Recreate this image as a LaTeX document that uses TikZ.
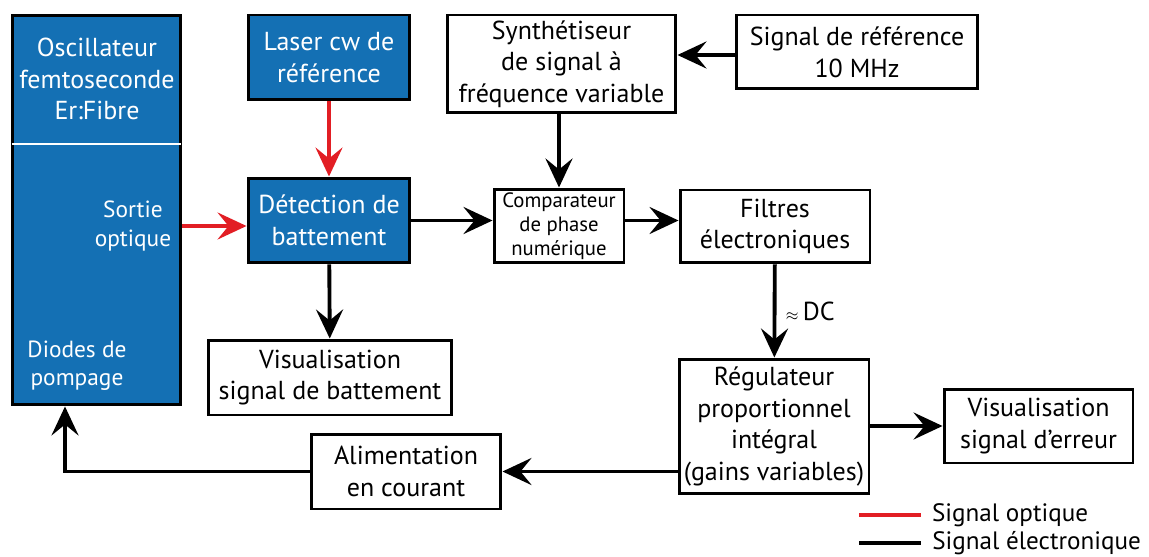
\documentclass[tikz,border=0pt]{standalone}
\usepackage{fontspec}
\setmainfont{PT Sans}
\usetikzlibrary{arrows.meta}
\definecolor{bleu}{RGB}{20,112,180}
\definecolor{rouge}{RGB}{226,30,36}
\begin{document}
\begin{tikzpicture}[x=0.02cm,y=-0.02cm,>={Stealth[length=5.8mm,width=5.4mm,inset=2.2mm]},
  boite/.style={draw,line width=1.7pt,align=center,inner sep=1pt,font=\fontsize{14.8pt}{18pt}\selectfont},
  bleue/.style={boite,fill=bleu,text=white},
  fleche/.style={line width=2.2pt,->},
  optique/.style={fleche,rouge,line width=2pt}]
 \useasboundingbox (0,0) rectangle (1149,557);
 % boites
 \node[bleue,minimum width=3.38cm,minimum height=7.8cm] (osc) at (96.5,210) {};
 \draw[white,line width=1.6pt] (12,144) -- (181,144);
 \node[align=center,text=white,font=\fontsize{14.8pt}{18pt}\selectfont] (titre) at (97,79) {Oscillateur\\femtoseconde\\Er:Fibre};
 \node[align=center,text=white,font=\fontsize{13.3pt}{16pt}\selectfont] (sortie) at (133,226) {Sortie\\optique};
 \node[align=center,text=white,font=\fontsize{13.3pt}{16pt}\selectfont] (diodes) at (77,366) {Diodes de\\pompage};
 \node[bleue,minimum width=3.24cm,minimum height=1.7cm] (laser) at (329,57.5) {Laser cw de\\référence};
 \node[bleue,minimum width=3.24cm,minimum height=1.7cm] (detect) at (329,220.5) {Détection de\\battement};
 \node[boite,minimum width=4.58cm,minimum height=1.96cm] (synth) at (561.5,64) {Synthétiseur\\de signal à\\fréquence variable};
 \node[boite,minimum width=4.84cm,minimum height=1.48cm] (ref) at (857,52) {Signal de référence\\10 MHz};
 \node[boite,minimum width=2.6cm,minimum height=1.48cm,font=\fontsize{11.8pt}{13.7pt}\selectfont] (comp) at (559,226) {Comparateur\\de phase\\numérique};
 \node[boite,minimum width=3.8cm,minimum height=1.46cm] (filtres) at (775,226.5) {Filtres\\électroniques};
 \node[boite,minimum width=4.88cm,minimum height=1.5cm] (visbat) at (330,377.5) {Visualisation\\signal de battement};
 \node[boite,minimum width=3.8cm,minimum height=2.7cm] (regul) at (774,426.5) {Régulateur\\proportionnel\\intégral\\(gains variables)};
 \node[boite,minimum width=3.78cm,minimum height=1.48cm] (viserr) at (1038.5,426) {Visualisation\\signal d’erreur};
 \node[boite,minimum width=3.8cm,minimum height=1.5cm] (alim) at (406,471.5) {Alimentation\\en courant};
 % signaux
 \draw[optique] (laser) -- (detect);
 \draw[optique] (osc.east |- sortie) -- (detect.west |- sortie);
 \draw[fleche] (detect) -- (visbat);
 \draw[fleche] (ref.west |- 0,55) -- (synth.east |- 0,55);
 \draw[fleche] (synth.south -| comp) -- (comp);
 \draw[fleche] (detect.east) -- (detect.east -| comp.west);
 \draw[fleche] (comp.east |- detect) -- (filtres.west |- detect);
 \draw[fleche] (filtres) -- node[right=2pt,font=\fontsize{14.8pt}{18pt}\selectfont] (dc) {{\small$\approx$}\,DC} (regul);
 \draw[fleche] (regul.east |- viserr) -- (viserr);
 \draw[fleche] (regul.west |- alim) -- (alim);
 \draw[fleche] (alim.west) -| ([xshift=-0.63cm]osc.south);
 % legende
 \coordinate (lo1) at (859,515);
 \coordinate (lo2) at (921,515);
 \coordinate (le1) at (859,543);
 \coordinate (le2) at (921,543);
 \draw[rouge,line width=2pt] (lo1) -- (lo2) node[right=2pt,black,font=\fontsize{14.3pt}{18pt}\selectfont] (lego) {Signal optique};
 \draw[line width=2.2pt] (le1) -- (le2) node[right=2pt,font=\fontsize{14.3pt}{18pt}\selectfont] (lege) {Signal électronique};
\end{tikzpicture}
\end{document}
